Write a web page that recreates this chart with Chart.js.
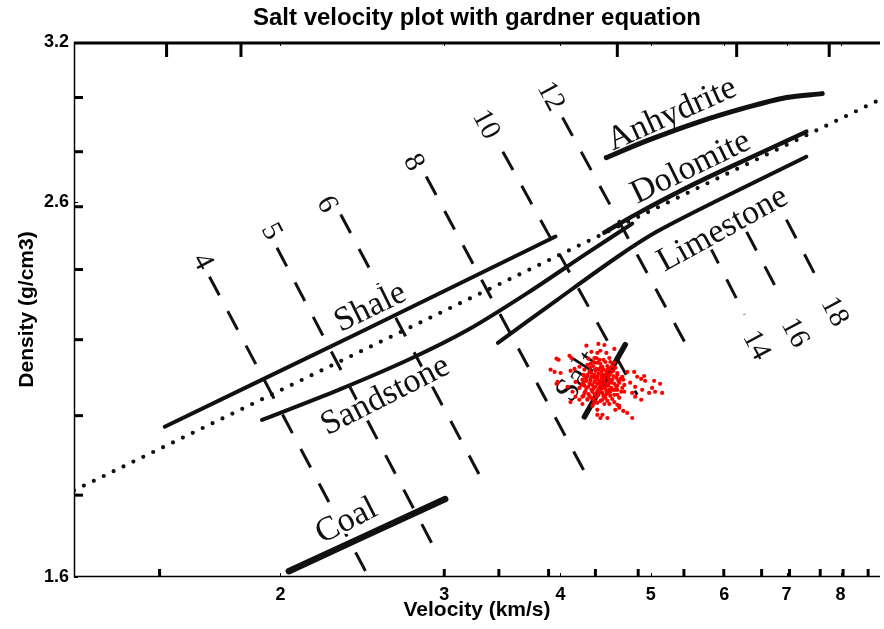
<!DOCTYPE html>
<html>
<head>
<meta charset="utf-8">
<script src="https://cdn.jsdelivr.net/npm/chart.js@4.4.1/dist/chart.umd.min.js"></script>
<style>
  html, body { margin: 0; padding: 0; background: #fff; }
  canvas { display: block; }
</style>
</head>
<body>
<canvas id="chart" width="884" height="629"></canvas>
<script>
// Axis ranges and tick labels
const velocityTicks = [2, 3, 4, 5, 6, 7, 8];
const densityTicks = [1.6, 2.6, 3.2];
const velocityRange = [1.2, 8.82];
const densityRange = [1.6, 3.2];

// Gardner trend (dotted)
const gardnerV = [1.2, 8.82];
const gardnerRho = [1.79, 2.97];

// Lithology trend lines: velocity (km/s) and density (g/cm3)
const shaleV = [1.502, 2.427, 3.951];
const shaleRho = [1.944, 2.195, 2.487];
const sandstoneV = [1.911, 2.310, 2.745, 3.182, 3.688, 4.276, 4.777];
const sandstoneRho = [1.961, 2.039, 2.120, 2.204, 2.312, 2.435, 2.529];
const limestoneV = [3.426, 3.971, 4.603, 5.079, 5.890, 7.350];
const limestoneRho = [2.167, 2.292, 2.422, 2.503, 2.605, 2.758];
const dolomiteV = [4.458, 4.836, 5.606, 6.499, 7.350];
const dolomiteRho = [2.500, 2.562, 2.667, 2.765, 2.849];
const anhydriteV = [4.480, 4.955, 5.606, 6.341, 6.998, 7.645];
const anhydriteRho = [2.755, 2.816, 2.883, 2.940, 2.978, 2.993];
const coalV = [2.042, 3.007];
const coalRho = [1.612, 1.770];
const saltLineV = [4.244, 4.695];
const saltLineRho = [1.969, 2.162];

// Constant acoustic impedance lines (dashed)
const impedanceLabels = ['4', '5', '6', '8', '10', '12', '14', '16', '18'];
const impedanceStartV = [1.678, 1.983, 2.322, 2.869, 3.468, 4.020, 5.775, 6.340, 6.996];
const impedanceStartRho = [2.361, 2.451, 2.559, 2.688, 2.776, 2.902, 2.461, 2.502, 2.542];
const impedanceEndV = [2.488, 2.954, 3.325, 4.244, 4.836, 5.496, 6.310, 6.910, 7.627];
const impedanceEndRho = [1.600, 1.646, 1.798, 1.834, 2.026, 2.148, 2.248, 2.297, 2.331];
const impedanceLabelV = [1.649, 1.954, 2.243, 2.779, 3.325, 3.903, 6.490, 7.140, 7.875];
const impedanceLabelRho = [2.407, 2.503, 2.592, 2.737, 2.875, 2.982, 2.160, 2.195, 2.256];

// Lithology names and where they sit
const lithologyNames = ['Shale', 'Sandstone', 'Coal', 'Anhydrite', 'Dolomite', 'Limestone', 'Salt'];
const lithologyLabelV = [2.500, 2.594, 2.356, 5.271, 5.523, 5.977, 4.182];
const lithologyLabelRho = [2.268, 2.023, 1.720, 2.913, 2.719, 2.510, 2.074];
const lithologyTilt = [-26, -27, -27, -24, -26, -29, -57];

// Frame tick marks of the chart sheet
const frameTopV = [1.509, 1.814, 4.604, 6.186, 7.778];
const frameBottomV = [1.483, 3.0, 3.434, 3.884, 4.361, 4.848, 5.429, 5.992, 6.580, 7.050, 7.607, 8.050, 8.565];
const frameLeftRho = [2.978, 2.776, 2.585, 2.383, 2.176, 1.972, 1.779];

// Salt samples
const saltV = [
  4.265,4.393,4.459,4.570,4.318,4.382,4.481,4.090,3.961,4.350,
  4.404,4.525,4.570,4.192,4.141,3.903,3.942,4.001,4.101,4.718,
  4.800,4.604,4.661,4.836,3.971,4.151,4.932,5.043,4.753,4.684,
  4.812,4.070,4.192,4.896,5.018,5.055,4.121,4.604,4.684,4.812,
  4.151,4.223,4.100,4.192,4.276,4.382,4.570,4.604,4.626,4.581,
  4.382,4.382,4.718,4.437,
  3.981,3.961,4.110,4.415,4.626,4.672,4.777,4.492,4.415,4.884,
  4.981,5.118,5.144,4.920,4.884,4.777,4.223,4.339,
  4.276,4.339,4.415,4.492,4.448,4.372,4.297,4.234,4.318,4.393,
  4.470,4.536,4.592,4.514,4.426,4.350,4.265,4.213,4.286,4.361,
  4.437,4.503,4.570,4.626,4.559,4.481,4.404,4.329,4.255,4.297,
  4.372,4.448,4.525,4.604,4.415,4.339,4.492,4.244,4.382,4.459,
  4.329,4.404,4.470,4.536,4.426,4.503,4.361,4.437,4.514,4.308,
  4.255,4.547,4.581,4.661,4.276,4.459,4.382,4.415,4.350,4.481,
  4.393,4.559,4.638,4.223,4.308,4.503,4.448,4.372,4.514,4.286,
  4.318,4.481,4.415,4.525,4.339,4.604,4.244,4.437,4.372,4.559,4.459,4.297,
  4.308,4.382,4.470,4.547,4.244,4.339,4.415,4.492,4.581,4.276,
  4.350,4.426,4.514,4.604,4.234,4.308,4.382,4.459,4.536,4.615,
  4.672,4.265,4.318,4.382,4.448,4.514,4.592,4.649,4.234,4.318,
  4.393,4.470,4.547,4.626,4.361,4.437,4.514,4.329,4.570,4.481,
  4.350,4.404,4.437,4.503,4.286
];
const saltRho = [
  2.159,2.164,2.161,2.150,2.142,2.139,2.139,2.131,2.123,2.125,
  2.120,2.114,2.112,2.101,2.095,2.093,2.087,2.084,2.090,2.087,
  2.087,2.079,2.074,2.074,2.060,2.060,2.063,2.063,2.058,2.052,
  2.047,2.047,2.044,2.039,2.044,2.034,2.034,2.039,2.034,2.021,
  2.021,2.021,2.007,2.013,2.013,2.005,2.007,2.000,1.992,1.987,
  1.987,1.974,1.979,1.974,
  2.120,2.055,2.125,2.145,1.997,1.984,1.966,1.966,1.966,2.013,
  2.031,2.055,2.031,2.076,2.068,2.031,2.002,2.002,
  2.106,2.114,2.109,2.103,2.093,2.095,2.087,2.079,2.074,2.082,
  2.079,2.087,2.071,2.066,2.068,2.060,2.063,2.052,2.047,2.047,
  2.052,2.050,2.055,2.058,2.039,2.036,2.034,2.034,2.036,2.023,
  2.021,2.023,2.023,2.026,2.010,2.013,2.010,2.031,2.066,2.060,
  2.052,2.044,2.042,2.044,2.076,2.071,2.090,2.101,2.095,2.098,
  2.071,2.066,2.039,2.044,2.015,2.002,2.055,2.039,2.028,2.028,
  2.093,2.076,2.068,2.066,2.063,2.058,2.120,2.125,2.125,2.123,
  2.084,2.087,2.055,2.034,2.042,2.050,2.050,2.031,2.074,2.090,2.071,2.055,
  2.109,2.112,2.114,2.103,2.093,2.103,2.098,2.093,2.098,2.079,
  2.079,2.087,2.079,2.084,2.058,2.068,2.074,2.066,2.058,2.063,
  2.066,2.044,2.039,2.036,2.044,2.039,2.047,2.034,2.023,2.018,
  2.026,2.018,2.015,2.018,2.007,2.013,2.002,1.997,2.026,2.050,
  2.071,2.060,2.079,2.031,2.028
];

const INK = '#111';
const SANS = "'Liberation Sans', Arial, sans-serif";
const SERIF = "'Liberation Serif', 'Times New Roman', serif";

const pts = (xs, ys) => xs.map((x, i) => ({ x: x, y: ys[i] }));

function trend(label, xs, ys, width) {
  return {
    label: label, data: pts(xs, ys), showLine: true, order: 1,
    borderColor: INK, borderWidth: width, pointRadius: 0,
    borderCapStyle: 'round', borderJoinStyle: 'round', tension: 0.3
  };
}

const datasets = [
  {
    label: 'Salt', data: pts(saltV, saltRho), order: 0, showLine: false,
    pointRadius: 2.1, pointBorderWidth: 0, pointBackgroundColor: '#ff0000'
  },
  {
    label: 'Gardner', data: pts(gardnerV, gardnerRho), showLine: true, order: 1,
    borderColor: INK, borderWidth: 4.2, pointRadius: 0,
    borderDash: [0, 11], borderCapStyle: 'round'
  },
  trend('Shale', shaleV, shaleRho, 4),
  trend('Sandstone', sandstoneV, sandstoneRho, 4),
  trend('Limestone', limestoneV, limestoneRho, 4),
  trend('Dolomite', dolomiteV, dolomiteRho, 4.5),
  trend('Anhydrite', anhydriteV, anhydriteRho, 5),
  trend('Coal', coalV, coalRho, 6.5),
  trend('Salt trend', saltLineV, saltLineRho, 5.5)
];

impedanceLabels.forEach((name, i) => {
  datasets.push({
    label: 'Z ' + name,
    data: [{ x: impedanceStartV[i], y: impedanceStartRho[i] }, { x: impedanceEndV[i], y: impedanceEndRho[i] }],
    showLine: true, order: 2, borderColor: INK, borderWidth: 3, pointRadius: 0,
    borderDash: [21, 18], borderCapStyle: 'butt'
  });
});

// Draws one rotated text with a thin white knock-out so dashes do not cut through it
function putText(ctx, text, px, py, deg) {
  ctx.save();
  ctx.translate(px, py);
  ctx.rotate(deg * Math.PI / 180);
  ctx.strokeText(text, 0, 0);
  ctx.fillText(text, 0, 0);
  ctx.restore();
}

let labelsDrawn = false;

const sheetDecor = {
  id: 'sheetDecor',
  beforeDraw() { labelsDrawn = false; },
  beforeDatasetsDraw(chart) {
    const { ctx, chartArea: a, scales: { x, y } } = chart;
    ctx.save();
    ctx.strokeStyle = '#000';
    const seg = (x1, y1, x2, y2, w) => {
      ctx.lineWidth = w;
      ctx.beginPath(); ctx.moveTo(x1, y1); ctx.lineTo(x2, y2); ctx.stroke();
    };
    // sheet border
    seg(a.left, a.top + 1, a.right, a.top + 1, 3);
    seg(a.left + 0.5, a.top, a.left + 0.5, a.bottom, 1.5);
    seg(a.left, a.bottom - 0.5, a.right, a.bottom - 0.5, 1.5);
    frameTopV.forEach(v => { const p = x.getPixelForValue(v); seg(p, a.top, p, a.top + 15, 3); });
    frameBottomV.forEach(v => { const p = x.getPixelForValue(v); seg(p, a.bottom, p, a.bottom - 8, 3); });
    frameLeftRho.forEach(v => { const p = y.getPixelForValue(v); seg(a.left, p, a.left + 9, p, 3); });
    ctx.restore();
  },
  beforeDatasetDraw(chart, args) {
    // after the dashed impedance lines, before the solid trends and samples
    if (labelsDrawn || args.meta.order === 2) return;
    labelsDrawn = true;
    const { ctx, scales: { x, y } } = chart;
    ctx.save();
    ctx.fillStyle = INK;
    ctx.strokeStyle = '#fff';
    ctx.lineJoin = 'round';
    ctx.lineWidth = 6;
    ctx.textAlign = 'center';
    ctx.textBaseline = 'middle';
    ctx.font = '34px ' + SERIF;
    lithologyNames.forEach((name, i) => {
      putText(ctx, name, x.getPixelForValue(lithologyLabelV[i]), y.getPixelForValue(lithologyLabelRho[i]), lithologyTilt[i]);
    });
    ctx.font = '29px ' + SERIF;
    impedanceLabels.forEach((name, i) => {
      putText(ctx, name, x.getPixelForValue(impedanceLabelV[i]), y.getPixelForValue(impedanceLabelRho[i]), 62);
    });
    ctx.restore();
  },
  afterDraw(chart) {
    const { ctx, chartArea: a, scales: { x, y } } = chart;
    ctx.save();
    ctx.strokeStyle = '#000';
    ctx.lineWidth = 1;
    velocityTicks.forEach(v => {
      const p = Math.round(x.getPixelForValue(v)) + 0.5;
      ctx.beginPath(); ctx.moveTo(p, a.bottom); ctx.lineTo(p, a.bottom - 4); ctx.stroke();
      ctx.beginPath(); ctx.moveTo(p, a.top); ctx.lineTo(p, a.top + 4); ctx.stroke();
    });
    densityTicks.forEach(v => {
      const p = Math.round(y.getPixelForValue(v)) + 0.5;
      ctx.beginPath(); ctx.moveTo(a.left, p); ctx.lineTo(a.left + 4, p); ctx.stroke();
    });
    ctx.restore();
  }
};

new Chart(document.getElementById('chart'), {
  type: 'scatter',
  data: { datasets: datasets },
  plugins: [sheetDecor],
  options: {
    responsive: false,
    animation: false,
    devicePixelRatio: 1,
    layout: { padding: 0 },
    plugins: {
      legend: { display: false },
      tooltip: { enabled: false },
      title: {
        display: true, fullSize: false,
        text: 'Salt velocity plot with gardner equation',
        color: '#000',
        font: { family: SANS, size: 24, weight: 'bold', lineHeight: 1.2 },
        padding: { top: 4, bottom: 9.2 }
      }
    },
    scales: {
      x: {
        type: 'logarithmic',
        min: velocityRange[0], max: velocityRange[1],
        afterBuildTicks: s => { s.ticks = velocityTicks.map(v => ({ value: v })); },
        afterFit: s => { s.height = 52; },
        grid: { display: false, drawTicks: false },
        border: { display: false },
        ticks: {
          autoSkip: false, maxRotation: 0, padding: 7, color: '#000',
          font: { family: SANS, size: 18, weight: 'bold' },
          callback: v => String(v)
        },
        title: {
          display: true, text: 'Velocity (km/s)', color: '#000',
          font: { family: SANS, size: 21, weight: 'bold', lineHeight: 1.2 },
          padding: { top: 0, bottom: 6 }
        }
      },
      y: {
        type: 'logarithmic',
        min: densityRange[0], max: densityRange[1],
        afterBuildTicks: s => { s.ticks = densityTicks.map(v => ({ value: v })); },
        afterFit: s => { s.width = 74; },
        grid: { display: false, drawTicks: false },
        border: { display: false },
        ticks: {
          autoSkip: false, padding: 5, color: '#000',
          font: { family: SANS, size: 18, weight: 'bold' },
          callback: v => Number(v).toFixed(1)
        },
        title: {
          display: true, text: 'Density (g/cm3)', color: '#000',
          font: { family: SANS, size: 21, weight: 'bold', lineHeight: 1.2 },
          padding: { top: 15, bottom: 0 }
        }
      }
    }
  }
});
</script>
</body>
</html>
